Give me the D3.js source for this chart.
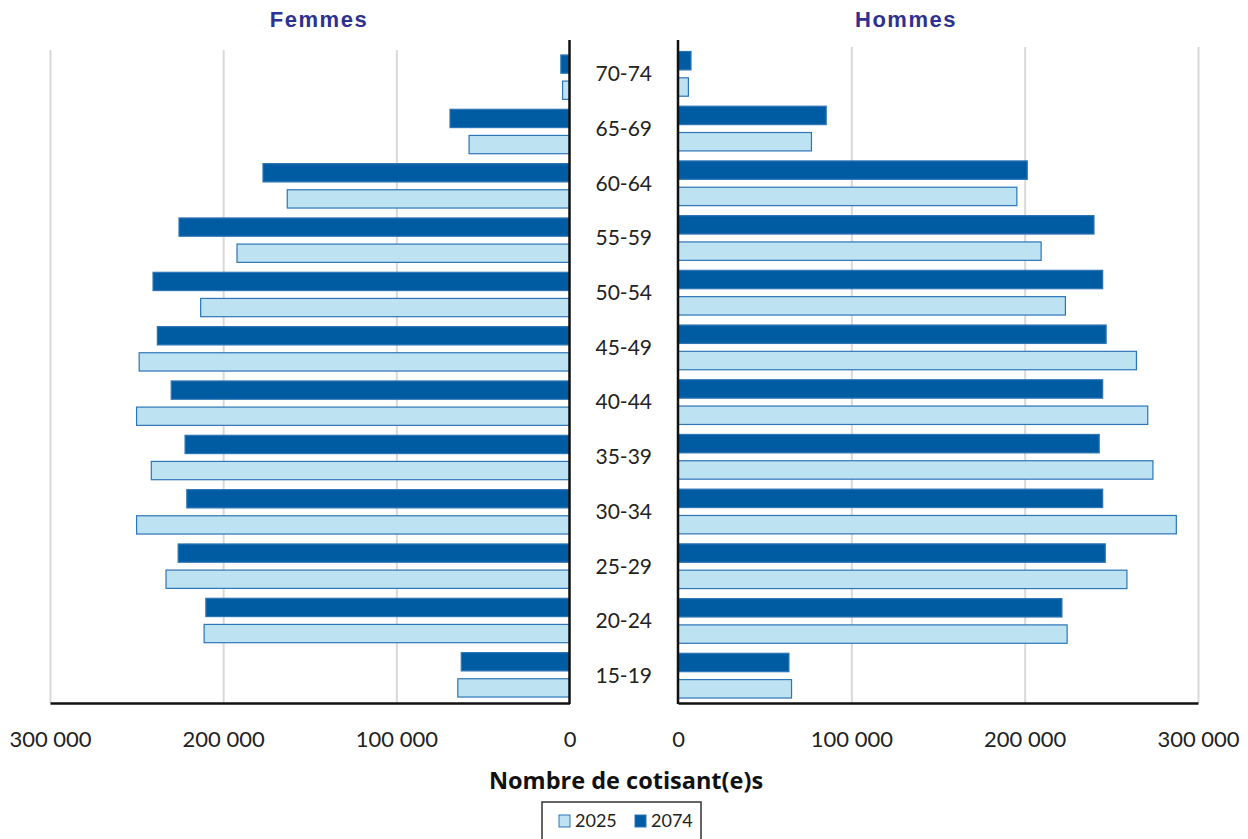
<!DOCTYPE html>
<html>
<head>
<meta charset="utf-8">
<script src="https://cdn.jsdelivr.net/npm/d3@7"></script>
<style>
  body { margin: 0; background: #fff; }
  text { font-family: Lato, "Open Sans", sans-serif; fill: #222; }
</style>
</head>
<body>
<div id="chart"></div>
<script>
// age groups, top to bottom
var ageGroups = ["70-74", "65-69", "60-64", "55-59", "50-54", "45-49", "40-44", "35-39", "30-34", "25-29", "20-24", "15-19"];
var series = ["2074", "2025"];

var femmes2025 = [4000, 58000, 163000, 192000, 213000, 248500, 250000, 241500, 250000, 233000, 211000, 64500];
var femmes2074 = [5000, 69000, 177000, 225500, 240500, 238000, 230000, 222000, 221000, 226000, 210000, 62500];
var hommes2025 = [6000, 77000, 195500, 209500, 223500, 264500, 271000, 274000, 287500, 259000, 224500, 65500];
var hommes2074 = [7500, 85500, 201500, 240000, 245000, 247000, 245000, 243000, 245000, 246500, 221500, 64000];

var tickValues = [0, 100000, 200000, 300000];

var colors = { "2025": "#bde2f2", "2074": "#005ca2" };
var strokeColor = "#2e75b6";

var svgWidth = 1248;
var svgHeight = 839;

var svg = d3.select("#chart")
  .append("svg")
  .attr("width", svgWidth)
  .attr("height", svgHeight);

var fr = d3.formatLocale({ decimal: ",", thousands: " ", grouping: [3], currency: ["", " €"] });
var fmt = fr.format(",d");

// scales
var xLeft = d3.scaleLinear().domain([0, 300000]).range([569.5, 50]);
var xRight = d3.scaleLinear().domain([0, 300000]).range([678, 1198]);

var yLeft = d3.scaleBand().domain(ageGroups).range([50, 702]);
var yRight = d3.scaleBand().domain(ageGroups).range([46.5, 703]);

var subLeft = d3.scaleBand().domain(series).range([0, yLeft.bandwidth()]).paddingInner(0.3).paddingOuter(0.19);
var subRight = d3.scaleBand().domain(series).range([0, yRight.bandwidth()]).paddingInner(0.3).paddingOuter(0.19);

var axisY = 703;

// gridlines
function grid(x, top) {
  svg.append("g")
    .attr("transform", `translate(0, ${axisY})`)
    .call(d3.axisBottom(x).tickValues(tickValues.slice(1)).tickSize(-(axisY - top)).tickFormat(""))
    .call(g => g.select(".domain").remove())
    .call(g => g.selectAll("line").attr("stroke", "#d9d9d9").attr("stroke-width", 2));
}
grid(xLeft, 50);
grid(xRight, 47);

// bars
function drawBars(x, y, sub, data2025, data2074) {
  var rows = [];
  ageGroups.forEach(function(a, i) {
    rows.push({ age: a, year: "2074", value: data2074[i] });
    rows.push({ age: a, year: "2025", value: data2025[i] });
  });
  svg.append("g").selectAll("rect")
    .data(rows)
    .enter()
    .append("rect")
    .attr("x", d => Math.min(x(0), x(d.value)))
    .attr("y", d => y(d.age) + sub(d.year))
    .attr("width", d => Math.abs(x(0) - x(d.value)))
    .attr("height", sub.bandwidth())
    .attr("fill", d => colors[d.year])
    .attr("stroke", strokeColor)
    .attr("stroke-width", 1.2);
}
drawBars(xLeft, yLeft, subLeft, femmes2025, femmes2074);
drawBars(xRight, yRight, subRight, hommes2025, hommes2074);

// bottom axes
function bottomAxis(x) {
  svg.append("g")
    .attr("transform", `translate(0, ${axisY})`)
    .call(d3.axisBottom(x).tickValues(tickValues).tickSize(0).tickSizeOuter(0).tickFormat(fmt))
    .call(g => g.select(".domain").attr("stroke", "#111").attr("stroke-width", 2.5))
    .call(g => g.selectAll("text")
      .attr("y", 36)
      .attr("dy", "0.35em")
      .style("font-size", "22px")
      .style("fill", "#222"));
}
bottomAxis(xLeft);
bottomAxis(xRight);

// vertical axis lines
[xLeft(0), xRight(0)].forEach(function(px) {
  svg.append("line")
    .attr("x1", px).attr("x2", px)
    .attr("y1", 40).attr("y2", axisY + 1)
    .attr("stroke", "#111")
    .attr("stroke-width", 2.5);
});

// age labels
svg.append("g").selectAll("text")
  .data(ageGroups)
  .enter()
  .append("text")
  .attr("x", (xLeft(0) + xRight(0)) / 2)
  .attr("y", d => yRight(d) + yRight.bandwidth() / 2)
  .attr("dy", "0.35em")
  .attr("text-anchor", "middle")
  .style("font-size", "21px")
  .text(d => d);

// panel titles
[{ label: "Femmes", x: 319 }, { label: "Hommes", x: 906 }].forEach(function(t) {
  svg.append("text")
    .attr("x", t.x).attr("y", 19).attr("dy", "0.35em")
    .attr("text-anchor", "middle")
    .style("font-family", "'Liberation Sans', Arial, sans-serif")
    .style("font-weight", "bold")
    .style("font-size", "22px")
    .style("letter-spacing", "1.5px")
    .style("fill", "#2e3192")
    .text(t.label);
});

// x axis title
svg.append("text")
  .attr("x", 626).attr("y", 781).attr("dy", "0.35em")
  .attr("text-anchor", "middle")
  .style("font-family", "'Open Sans', Lato, sans-serif")
  .style("font-weight", "bold")
  .style("font-size", "23.5px")
  .style("fill", "#111")
  .text("Nombre de cotisant(e)s");

// legend
var legend = svg.append("g");
legend.append("rect")
  .attr("x", 542).attr("y", 802)
  .attr("width", 159).attr("height", 42)
  .attr("fill", "#fff")
  .attr("stroke", "#333")
  .attr("stroke-width", 1.5);

var legendItems = [{ year: "2025", x: 559 }, { year: "2074", x: 635 }];
legendItems.forEach(function(item) {
  legend.append("rect")
    .attr("x", item.x).attr("y", 815)
    .attr("width", 11).attr("height", 12)
    .attr("fill", colors[item.year])
    .attr("stroke", strokeColor)
    .attr("stroke-width", 1);
  legend.append("text")
    .attr("x", item.x + 16).attr("y", 821).attr("dy", "0.35em")
    .style("font-size", "18px")
    .text(item.year);
});
</script>
</body>
</html>
